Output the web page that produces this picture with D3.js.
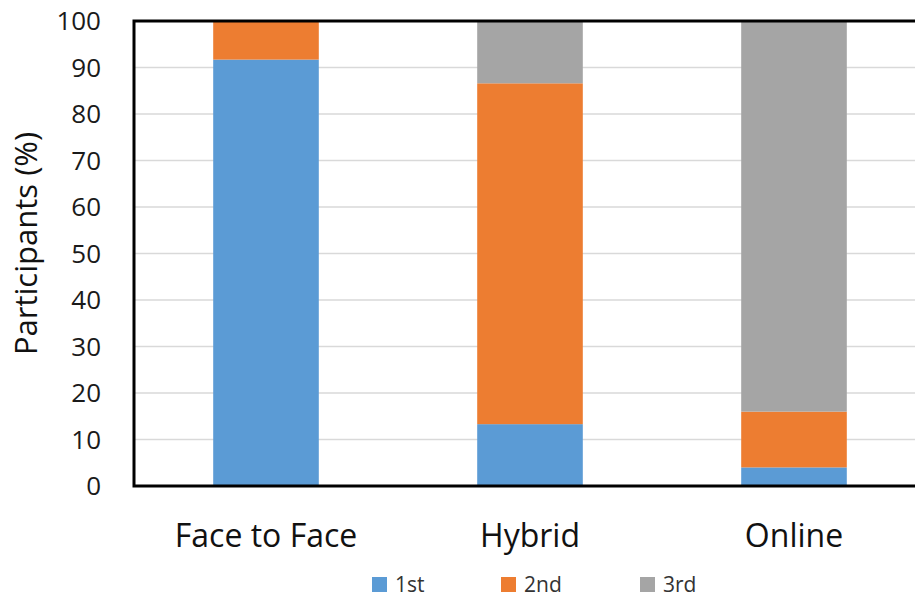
<!DOCTYPE html>
<html>
<head>
<meta charset="utf-8">
<script src="https://cdn.jsdelivr.net/npm/d3@7"></script>
<style>
  body { margin: 0; background: #fff; }
  svg { display: block; font-family: "Open Sans", sans-serif; }
</style>
</head>
<body>
<div id="chart"></div>
<script>
// chart data
const categories = ["Face to Face", "Hybrid", "Online"];
const seriesNames = ["1st", "2nd", "3rd"];
const first = [91.7, 13.3, 4];
const second = [8.3, 73.3, 12];
const third = [0, 13.4, 84];
const yTicks = [0, 10, 20, 30, 40, 50, 60, 70, 80, 90, 100];
const colors = ["#5b9bd5", "#ed7d31", "#a5a5a5"];

(function stacked() {
  let width = 915,
      height = 598,
      margin = ({ top: 21, right: -11, bottom: 112, left: 134 });

  const svg = d3.select("#chart")
    .append("svg")
    .attr("width", width)
    .attr("height", height);

  const table = categories.map((c, i) => ({
    cat: c, "1st": first[i], "2nd": second[i], "3rd": third[i]
  }));

  const stack = d3.stack().keys(seriesNames)(table);

  let x = d3.scaleBand()
    .domain(categories)
    .range([margin.left, width - margin.right])
    .paddingInner(0.6)
    .paddingOuter(0.3);

  let y = d3.scaleLinear()
    .domain([0, 100])
    .range([height - margin.bottom, margin.top]);

  // gridlines
  svg.append("g")
    .selectAll("line")
    .data(yTicks.slice(1, -1))
    .join("line")
    .attr("x1", margin.left)
    .attr("x2", width)
    .attr("y1", d => y(d))
    .attr("y2", d => y(d))
    .attr("stroke", "#d9d9d9")
    .attr("stroke-width", 1.5);

  svg.append("g")
    .selectAll("g")
    .data(stack)
    .join("g")
    .attr("fill", (d, i) => colors[i])
    .selectAll("rect")
    .data(d => d)
    .join("rect")
    .attr("x", d => x(d.data.cat))
    .attr("width", x.bandwidth())
    .attr("y", d => y(d[1]))
    .attr("height", d => y(d[0]) - y(d[1]));

  // y axis labels
  svg.append("g")
    .selectAll("text")
    .data(yTicks)
    .join("text")
    .attr("x", 101)
    .attr("y", d => y(d))
    .attr("dy", "0.36em")
    .attr("text-anchor", "end")
    .attr("font-size", 26)
    .attr("fill", "#1a1a1a")
    .text(d => d);

  // frame: left, bottom, top
  svg.append("path")
    .attr("d", `M${width},${y(100)}H${margin.left}V${y(0)}H${width}`)
    .attr("fill", "none")
    .attr("stroke", "#000")
    .attr("stroke-width", 3);

  // x labels
  svg.append("g")
    .selectAll("text")
    .data(categories)
    .join("text")
    .attr("x", d => x(d) + x.bandwidth() / 2)
    .attr("y", 547)
    .attr("text-anchor", "middle")
    .attr("font-size", 32)
    .attr("fill", "#111")
    .text(d => d);

  // y title
  svg.append("text")
    .attr("transform", `translate(37,${y(50) - 10}) rotate(-90)`)
    .attr("text-anchor", "middle")
    .attr("font-size", 31)
    .attr("fill", "#111")
    .text("Participants (%)");

  // legend
  const legendX = [372, 501, 640];
  const legend = svg.append("g")
    .selectAll("g")
    .data(seriesNames)
    .join("g")
    .attr("transform", (d, i) => `translate(${legendX[i]},577)`);

  legend.append("rect")
    .attr("width", 15)
    .attr("height", 15)
    .attr("fill", (d, i) => colors[i]);

  legend.append("text")
    .attr("x", 23)
    .attr("y", 7.5)
    .attr("dy", "0.36em")
    .attr("font-size", 21)
    .attr("fill", "#333")
    .text(d => d);
})();
</script>
</body>
</html>
